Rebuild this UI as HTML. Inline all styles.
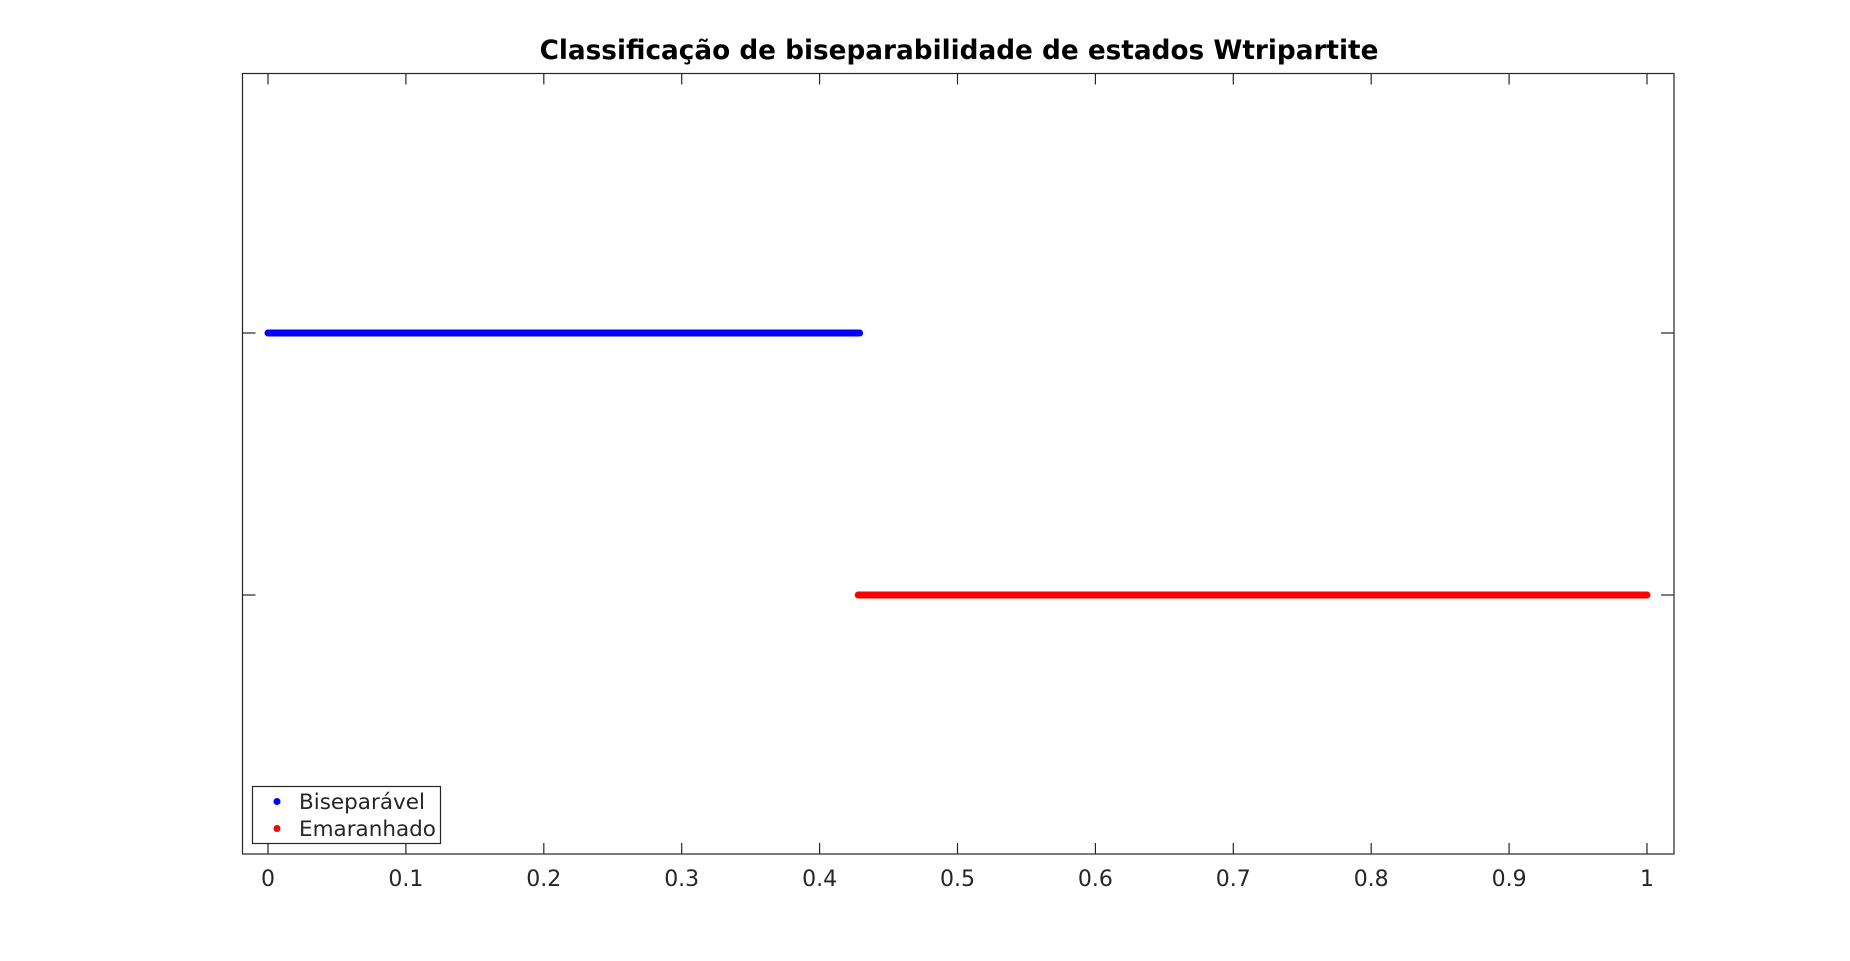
<!DOCTYPE html>
<html><head><meta charset="utf-8"><style>
html,body{margin:0;padding:0;background:#fff;}
svg{display:block;font-family:"DejaVu Sans","Liberation Sans",sans-serif;}
</style></head><body>
<svg id="chart" width="1850" height="961">
<text x="959" y="59" text-anchor="middle" font-size="26.3" font-weight="bold" fill="#000">Classificação de biseparabilidade de estados Wtripartite</text>
<rect x="242.5" y="73.5" width="1431.5" height="780.5" fill="none" stroke="#262626" stroke-width="1.2"/>
<g id="ticks"></g>
<g id="series"></g>
<g>
<rect x="252.5" y="786.5" width="188" height="57" fill="#fff" stroke="#262626" stroke-width="1.2"/>
<circle cx="277" cy="801.5" r="3.5" fill="#0000ff"/>
<text x="299" y="809" font-size="21.5" fill="#262626">Biseparável</text>
<circle cx="277" cy="828.5" r="3.5" fill="#ff0000"/>
<text x="299" y="836" font-size="21.5" fill="#262626">Emaranhado</text>
</g>
</svg>
<script>
const categories = ["Biseparável","Emaranhado"];
const xStart = [0, 0.428];
const xEnd = [0.429, 1];
const yValue = [1, 0];
const colors = ["#0000ff","#ff0000"];
const xTicks = [0,0.1,0.2,0.3,0.4,0.5,0.6,0.7,0.8,0.9,1];
const xTickLabels = ["0","0.1","0.2","0.3","0.4","0.5","0.6","0.7","0.8","0.9","1"];
const yTicks = [0,1];

const NS="http://www.w3.org/2000/svg";
const X0=242.5,X1=1674,Y0=73.5,Y1=854;
function xs(v){return 268+v*(1647-268);}
function ys(v){return 595+(v)*(333-595);}
const tg=document.getElementById('ticks');
xTicks.forEach((t,i)=>{
  const x=xs(t);
  [[Y1,Y1-11],[Y0,Y0+11]].forEach(p=>{
    const l=document.createElementNS(NS,'line');
    l.setAttribute('x1',x);l.setAttribute('x2',x);l.setAttribute('y1',p[0]);l.setAttribute('y2',p[1]);
    l.setAttribute('stroke','#262626');l.setAttribute('stroke-width','1.2');
    
    
    tg.appendChild(l);
  });
  const tx=document.createElementNS(NS,'text');
  tx.setAttribute('x',x);tx.setAttribute('y',886);tx.setAttribute('text-anchor','middle');
  tx.setAttribute('font-size','22');tx.setAttribute('fill','#262626');
  tx.textContent=xTickLabels[i];
  
  
  tg.appendChild(tx);
});
yTicks.forEach(t=>{
  const y=ys(t);
  [[X0,X0+13],[X1,X1-13]].forEach(p=>{
    const l=document.createElementNS(NS,'line');
    l.setAttribute('x1',p[0]);l.setAttribute('x2',p[1]);l.setAttribute('y1',y);l.setAttribute('y2',y);
    l.setAttribute('stroke','#262626');l.setAttribute('stroke-width','1.2');
    
    
    tg.appendChild(l);
  });
});
const sg=document.getElementById('series');
categories.forEach((c,i)=>{
  const l=document.createElementNS(NS,'line');
  l.setAttribute('x1',xs(xStart[i]));l.setAttribute('x2',xs(xEnd[i]));
  l.setAttribute('y1',ys(yValue[i]));l.setAttribute('y2',ys(yValue[i]));
  l.setAttribute('stroke',colors[i]);l.setAttribute('stroke-width','7');l.setAttribute('stroke-linecap','round');
  
  
  sg.appendChild(l);
});
</script>
</body></html>
